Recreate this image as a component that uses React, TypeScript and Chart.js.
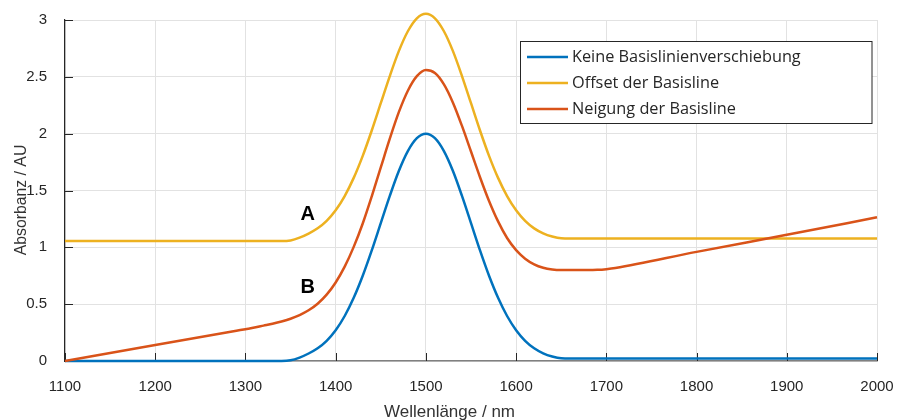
import React, { useEffect, useRef } from "react";
import { Chart, registerables } from "chart.js";

Chart.register(...registerables);

// Wavelength grid (nm) shared by all three series
const WAVELENGTH = [
  1100, 1200, 1290, 1300, 1310, 1320, 1330, 1340, 1350, 1360, 1370, 1380, 1390,
  1400, 1410, 1420, 1430, 1440, 1450, 1460, 1470, 1480, 1490, 1500, 1510, 1520,
  1530, 1540, 1550, 1560, 1570, 1580, 1590, 1600, 1610, 1620, 1630, 1640, 1650,
  1660, 1670, 1680, 1690, 1700, 1710, 1800, 1900, 2000,
];

// Keine Basislinienverschiebung
const NO_SHIFT = [
  0, 0, 0, 0, 0, 0, 0, 0, 0.006, 0.03, 0.066, 0.112, 0.178,
  0.271, 0.396, 0.556, 0.75, 0.973, 1.213, 1.452, 1.671, 1.846, 1.96, 2.0, 1.96, 1.846,
  1.671, 1.452, 1.213, 0.973, 0.75, 0.556, 0.396, 0.271, 0.178, 0.112, 0.068, 0.04, 0.024,
  0.022, 0.022, 0.022, 0.022, 0.022, 0.022, 0.022, 0.022, 0.022,
];

// Offset der Basisline
const OFFSET = [
  1.055, 1.055, 1.055, 1.055, 1.055, 1.055, 1.055, 1.055, 1.061, 1.085, 1.121, 1.167, 1.233,
  1.326, 1.451, 1.611, 1.805, 2.028, 2.268, 2.507, 2.726, 2.901, 3.015, 3.055, 3.015, 2.901,
  2.726, 2.507, 2.268, 2.028, 1.805, 1.611, 1.451, 1.326, 1.233, 1.167, 1.123, 1.095, 1.079,
  1.077, 1.077, 1.077, 1.077, 1.077, 1.077, 1.077, 1.077, 1.077,
];

// Neigung der Basisline
const SLOPE = [
  0, 0.14, 0.266, 0.28, 0.294, 0.311, 0.328, 0.348, 0.372, 0.404, 0.446, 0.504, 0.584,
  0.691, 0.83, 1.004, 1.21, 1.449, 1.703, 1.956, 2.189, 2.378, 2.506, 2.56, 2.534, 2.434,
  2.273, 2.068, 1.843, 1.617, 1.408, 1.228, 1.082, 0.975, 0.9, 0.85, 0.82, 0.805, 0.8,
  0.8, 0.8, 0.8, 0.802, 0.808, 0.818, 0.96, 1.11, 1.264,
];

const SERIES_LABELS = [
  "Keine Basislinienverschiebung",
  "Offset der Basisline",
  "Neigung der Basisline",
];
const SERIES_COLORS = ["#0072BD", "#EDB120", "#D95319"];

const X_TICKS = [1100, 1200, 1300, 1400, 1500, 1600, 1700, 1800, 1900, 2000];
const Y_TICKS = [0, 0.5, 1, 1.5, 2, 2.5, 3];

const X_TITLE = "Wellenlänge / nm";
const Y_TITLE = "Absorbanz / AU";

const MARKERS = [
  { text: "A", x: 1369, y: 1.24 },
  { text: "B", x: 1369, y: 0.6 },
];

const toPoints = (ys: number[]) => WAVELENGTH.map((x, i) => ({ x, y: ys[i] }));

const decor = {
  id: "decor",
  beforeDatasetsDraw(chart: any) {
    const { ctx, chartArea, scales } = chart;
    const xs = scales.x;
    const ys = scales.y;
    ctx.save();
    ctx.strokeStyle = "#262626";
    ctx.lineWidth = 1;
    Y_TICKS.forEach((v) => {
      const py = Math.round(ys.getPixelForValue(v)) + 0.5;
      ctx.beginPath();
      ctx.moveTo(chartArea.left, py);
      ctx.lineTo(chartArea.left + 8, py);
      ctx.stroke();
    });
    X_TICKS.forEach((v) => {
      const px = Math.round(xs.getPixelForValue(v)) + 0.5;
      ctx.beginPath();
      ctx.moveTo(px, chartArea.bottom);
      ctx.lineTo(px, chartArea.bottom - 8);
      ctx.stroke();
    });
    ctx.restore();
  },
  afterDraw(chart: any) {
    const { ctx, scales } = chart;
    const xs = scales.x;
    const ys = scales.y;
    ctx.save();
    // markers A / B
    ctx.fillStyle = "#000";
    ctx.font = 'bold 20px "Liberation Sans"';
    ctx.textAlign = "center";
    ctx.textBaseline = "alphabetic";
    MARKERS.forEach((m) => {
      ctx.fillText(m.text, xs.getPixelForValue(m.x), ys.getPixelForValue(m.y));
    });

    // axis titles
    ctx.fillStyle = "#333";
    ctx.font = '17px "Liberation Sans"';
    ctx.textAlign = "center";
    ctx.textBaseline = "alphabetic";
    ctx.fillText(X_TITLE, 449.5, 416.5);
    ctx.save();
    ctx.translate(21.5, 200);
    ctx.rotate(-Math.PI / 2);
    ctx.font = '15.8px "Liberation Sans"';
    ctx.textBaseline = "middle";
    ctx.fillText(Y_TITLE, 0, 0);
    ctx.restore();

    // legend
    const lx = 520.5, ly = 41.5, lw = 351.5, lh = 82;
    ctx.fillStyle = "#fff";
    ctx.fillRect(lx, ly, lw, lh);
    ctx.strokeStyle = "#262626";
    ctx.lineWidth = 1;
    ctx.strokeRect(lx, ly, lw, lh);
    const rows = [57, 83, 109];
    SERIES_LABELS.forEach((label, i) => {
      ctx.strokeStyle = SERIES_COLORS[i];
      ctx.lineWidth = 2.5;
      ctx.beginPath();
      ctx.moveTo(527, rows[i]);
      ctx.lineTo(568, rows[i]);
      ctx.stroke();
      ctx.fillStyle = "#262626";
      ctx.font = '16.3px "Open Sans"';
      ctx.textAlign = "left";
      ctx.textBaseline = "middle";
      ctx.fillText(label, 572, rows[i]);
    });
    ctx.restore();
  },
};

export default function App() {
  const ref = useRef<HTMLCanvasElement | null>(null);

  useEffect(() => {
    document.body.style.margin = "0";
    const canvas = ref.current;
    if (!canvas) return;
    const seriesData = [NO_SHIFT, OFFSET, SLOPE];
    const chart = new Chart(canvas, {
      type: "line",
      data: {
        datasets: seriesData.map((ys, i) => ({
          label: SERIES_LABELS[i],
          data: toPoints(ys),
          borderColor: SERIES_COLORS[i],
          backgroundColor: SERIES_COLORS[i],
          borderWidth: 2.5,
          pointRadius: 0,
          cubicInterpolationMode: "monotone",
          fill: false,
          clip: false,
          order: 3 - i,
        })),
      },
      options: {
        animation: false,
        responsive: false,
        devicePixelRatio: 1,
        layout: { padding: { left: 0, right: 25, top: 20, bottom: 0 } },
        plugins: {
          legend: { display: false },
          tooltip: { enabled: false },
          title: { display: false },
        },
        scales: {
          x: {
            type: "linear",
            min: 1100,
            max: 2000,
            afterBuildTicks: (scale: any) => {
              scale.ticks = X_TICKS.map((v) => ({ value: v }));
            },
            afterFit: (scale: any) => {
              scale.height = 59;
              scale.paddingLeft = 0;
              scale.paddingRight = 0;
            },
            ticks: {
              color: "#262626",
              font: { family: "Liberation Sans", size: 15 },
              padding: 17,
              maxRotation: 0,
              autoSkip: false,
              callback: (v: any) => String(v),
            },
            grid: { color: "#e2e2e2", drawTicks: false, lineWidth: 1 },
            border: { display: true, color: "#808080", width: 1.5 },
          },
          y: {
            type: "linear",
            min: 0,
            max: 3,
            afterBuildTicks: (scale: any) => {
              scale.ticks = Y_TICKS.map((v) => ({ value: v }));
            },
            afterFit: (scale: any) => {
              scale.width = 65;
              scale.paddingTop = 0;
              scale.paddingBottom = 0;
            },
            ticks: {
              color: "#262626",
              font: { family: "Liberation Sans", size: 15 },
              padding: 18,
              autoSkip: false,
              callback: (v: any) => String(v),
            },
            grid: { color: "#e2e2e2", drawTicks: false, lineWidth: 1 },
            border: { display: true, color: "#262626", width: 1.2 },
          },
        },
      },
      plugins: [decor],
    } as any);
    return () => chart.destroy();
  }, []);

  return (
    <div style={{ width: 902, height: 420, background: "#fff" }}>
      <canvas ref={ref} width={902} height={420} style={{ display: "block" }} />
    </div>
  );
}
